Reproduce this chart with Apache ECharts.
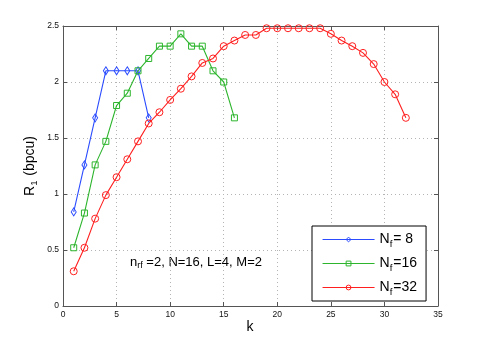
<!DOCTYPE html>
<html>
<head>
<meta charset="utf-8">
<script src="https://cdn.jsdelivr.net/npm/echarts@6/dist/echarts.min.js"></script>
<style>
  html, body { margin: 0; padding: 0; background: #fff; }
  #main { width: 485px; height: 346px; }
</style>
</head>
<body>
<div id="main"></div>
<script>
// values
var kTicks = [0, 5, 10, 15, 20, 25, 30, 35];
var rTicks = [0, 0.5, 1, 1.5, 2, 2.5];

var nf8 = [0.84, 1.26, 1.68, 2.1, 2.1, 2.1, 2.1, 1.68];
var nf16 = [0.52, 0.83, 1.26, 1.47, 1.79, 1.9, 2.1, 2.21, 2.32, 2.32, 2.43, 2.32, 2.32, 2.1, 2.0, 1.68];
var nf32 = [0.31, 0.52, 0.78, 0.99, 1.15, 1.31, 1.47, 1.63, 1.73, 1.84, 1.94, 2.05, 2.17, 2.21, 2.32, 2.37,
            2.42, 2.42, 2.48, 2.48, 2.48, 2.48, 2.48, 2.48, 2.43, 2.37, 2.32, 2.26, 2.16, 2.0, 1.89, 1.68];

var names = ['Nf=8', 'Nf=16', 'Nf=32'];
var legendText = {'Nf=8': '= 8', 'Nf=16': '=16', 'Nf=32': '=32'};
var colors = ['#2a4bff', '#2db52d', '#ff1f1f'];

function pairs(arr) {
  return arr.map(function (v, i) { return [i + 1, v]; });
}

var font = 'Liberation Sans, Arial, Helvetica, sans-serif';
var gridLine = { show: true, lineStyle: { color: '#b4b4b4', type: [1, 3], width: 1 } };

function axisBase(pos, show) {
  return {
    position: pos,
    axisLine: { show: true, onZero: false, lineStyle: { color: '#555', width: 1 } },
    axisTick: { show: true, inside: true, length: 4, lineStyle: { color: '#555' } },
    axisLabel: { show: show, color: '#111', fontSize: 8.5, fontFamily: font, margin: 4 },
    splitLine: { show: false }
  };
}

var xMain = Object.assign(axisBase('bottom', true), {
  type: 'value', min: 0, max: 35, interval: 5, splitLine: gridLine
});
var xTop = Object.assign(axisBase('top', false), { type: 'value', min: 0, max: 35, interval: 5 });
var yMain = Object.assign(axisBase('left', true), {
  type: 'value', min: 0, max: 2.5, interval: 0.5, splitLine: gridLine
});
var yRight = Object.assign(axisBase('right', false), { type: 'value', min: 0, max: 2.5, interval: 0.5 });

function lineSeries(i, data, symbol, size) {
  return {
    name: names[i], type: 'line', data: pairs(data),
    xAxisIndex: 0, yAxisIndex: 0,
    symbol: symbol, symbolSize: size,
    itemStyle: { color: 'rgba(0,0,0,0)', borderColor: colors[i], borderWidth: 1 },
    lineStyle: { color: colors[i], width: 1.1 },
    emphasis: { disabled: true },
    z: 3
  };
}

var chart = echarts.init(document.getElementById('main'));
var option = {
  animation: false,
  backgroundColor: '#fff',
  textStyle: { fontFamily: font },
  grid: { left: 63, right: 47, top: 26, bottom: 40 },
  xAxis: [xMain, xTop],
  yAxis: [yMain, yRight],
  legend: {
    data: names,
    orient: 'vertical',
    left: 312, top: 226,
    backgroundColor: '#fff',
    borderColor: '#000', borderWidth: 1,
    padding: [4, 9, 4, 10],
    itemWidth: 52, itemHeight: 6, itemGap: 5,
    lineStyle: { width: 1.1 },
    itemStyle: { borderWidth: 1 },
    formatter: function (n) { return '{n|N}{s|f}{n|' + legendText[n] + '}'; },
    textStyle: {
      rich: {
        n: { fontSize: 14, lineHeight: 16, color: '#000', fontFamily: font },
        s: { fontSize: 9.5, lineHeight: 7, color: '#000', fontFamily: font, padding: [9, 1, 0, 0] }
      }
    }
  },
  graphic: [
    {
      type: 'text', left: 130, top: 256,
      style: {
        text: '{n|n}{s|rf}{n| =2, N=16, L=4, M=2}',
        rich: {
          n: { fontSize: 13, fill: '#000', fontFamily: font },
          s: { fontSize: 9, fill: '#000', fontFamily: font, padding: [7, 0, 0, 0] }
        }
      }
    },
    {
      type: 'text', x: 250, y: 327,
      style: { text: 'k', fontSize: 14, fill: '#000', fontFamily: font, align: 'center', verticalAlign: 'middle' }
    },
    {
      type: 'text', x: 30, y: 166, rotation: Math.PI / 2,
      style: {
        text: '{n|R}{s|1}{n| (bpcu)}',
        align: 'center', verticalAlign: 'middle',
        rich: {
          n: { fontSize: 14, fill: '#000', fontFamily: font },
          s: { fontSize: 9.5, fill: '#000', fontFamily: font, padding: [9, 1, 0, 0] }
        }
      }
    }
  ],
  series: [
    lineSeries(0, nf8, 'diamond', [5, 8]),
    lineSeries(1, nf16, 'rect', 6),
    lineSeries(2, nf32, 'circle', 7)
  ]
};
chart.setOption(option);
</script>
</body>
</html>
